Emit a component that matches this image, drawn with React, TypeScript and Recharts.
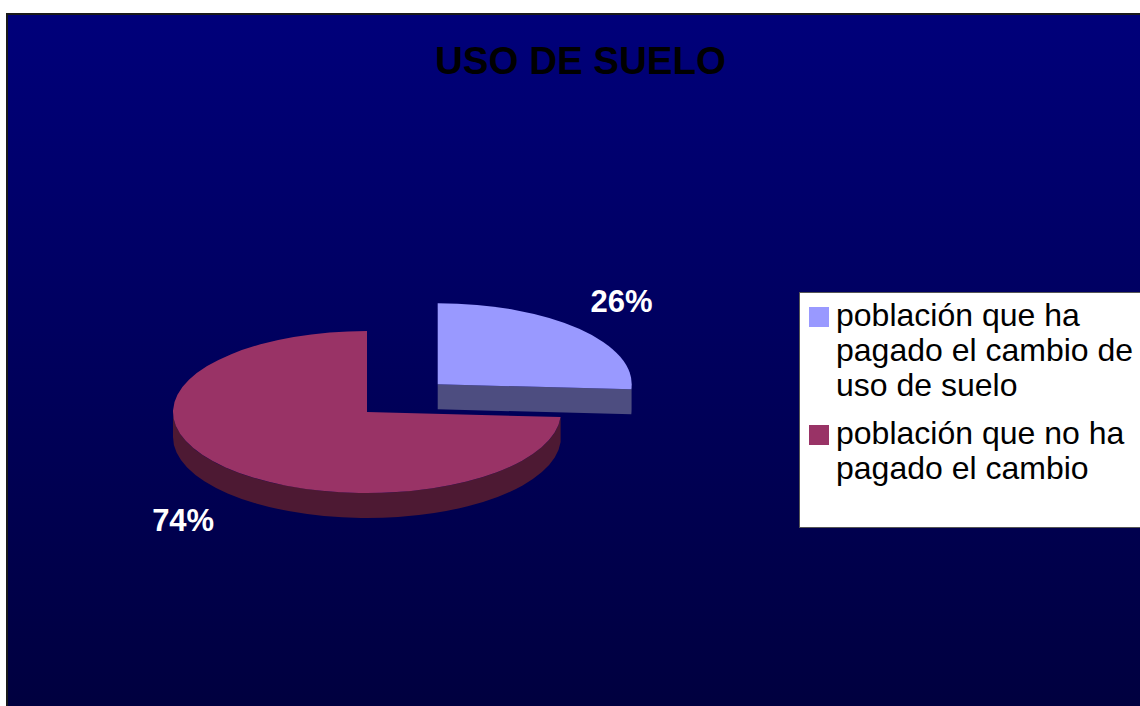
import React from 'react';
import { PieChart, Pie, Cell, Legend } from 'recharts';

const title = 'USO DE SUELO';
const categories = [
  'población que ha pagado el cambio de uso de suelo',
  'población que no ha pagado el cambio',
];
const values = [26, 74];
const topColors = ['#9999FF', '#993366'];
const sideColors = ['#4D4D80', '#4D1933'];
const exploded = [true, false];

const data = categories.map((name, i) => ({ name, value: values[i] }));

const W = 1140;
const H = 706;
const TILT = 0.4175;
const DEPTH = 25;
const EXPLODE = 0.5;
const FONT = '"Liberation Sans", Arial, Helvetica, sans-serif';

const rad = (d: number) => (d * Math.PI) / 180;

function SliceLabel(props: any) {
  const { cx, cy, outerRadius, startAngle, endAngle, midAngle, percent, index } = props;
  const r = outerRadius;
  const ry = r * TILT;
  const hi = Math.max(startAngle, endAngle);
  const lo = Math.min(startAngle, endAngle);
  let ox = cx;
  let oy = cy;
  if (exploded[index]) {
    ox += EXPLODE * r * Math.cos(rad(midAngle));
    oy -= EXPLODE * ry * Math.sin(rad(midAngle));
  }
  const P = (a: number, d = 0) => [ox + r * Math.cos(rad(a)), oy - ry * Math.sin(rad(a)) + d];
  const f = (p: number[]) => `${p[0].toFixed(2)},${p[1].toFixed(2)}`;
  const large = hi - lo > 180 ? 1 : 0;
  const top = `M${f([ox, oy])} L${f(P(hi))} A${r},${ry} 0 ${large} 1 ${f(P(lo))} Z`;
  const walls: string[] = [];
  for (let k = -2; k <= 2; k++) {
    const a = Math.max(lo, -180 + 360 * k);
    const b = Math.min(hi, 360 * k);
    if (b - a > 0.01) {
      walls.push(
        `M${f(P(b))} A${r},${ry} 0 0 1 ${f(P(a))} L${f(P(a, DEPTH))} A${r},${ry} 0 0 0 ${f(P(b, DEPTH))} Z`
      );
    }
  }
  const faces: number[] = [];
  if (hi - lo < 359.99) {
    if (Math.sin(rad(hi + 90)) < -1e-6) faces.push(hi);
    if (Math.sin(rad(lo - 90)) < -1e-6) faces.push(lo);
  }
  const face = (a: number) =>
    `M${f([ox, oy])} L${f(P(a))} L${f(P(a, DEPTH))} L${f([ox, oy + DEPTH])} Z`;
  const s = Math.sin(rad(midAngle));
  const lx = ox + 1.3 * r * Math.cos(rad(midAngle));
  const ly = oy - 1.5 * ry * s + (s < 0 ? DEPTH : 0);
  return (
    <g>
      {walls.map((d, i) => (
        <path key={'w' + i} d={d} fill={sideColors[index]} stroke="none" />
      ))}
      {faces.map((a, i) => (
        <path key={'f' + i} d={face(a)} fill={sideColors[index]} stroke="none" />
      ))}
      <path d={top} fill={topColors[index]} stroke="none" />
      <text
        x={lx}
        y={ly}
        dy="0.35em"
        textAnchor="middle"
        fill="#FFFFFF"
        fontFamily={FONT}
        fontWeight="bold"
        fontSize={31}
      >
        {`${Math.round(percent * 100)}%`}
      </text>
    </g>
  );
}

function LegendBox(props: any) {
  const payload = props.payload || [];
  return (
    <div
      style={{
        width: 350,
        height: 236,
        background: '#FFFFFF',
        border: '1px solid #555555',
        boxSizing: 'border-box',
        paddingTop: 5,
        fontFamily: FONT,
        fontSize: 32,
        lineHeight: '35px',
        color: '#000000',
      }}
    >
      {payload.map((entry: any, i: number) => (
        <div key={i} style={{ position: 'relative', paddingLeft: 36, marginBottom: 13, width: 306 }}>
          <span
            style={{
              position: 'absolute',
              left: 9,
              top: 9,
              width: 20,
              height: 20,
              background: topColors[i],
            }}
          />
          {entry.value}
        </div>
      ))}
    </div>
  );
}

export default function App() {
  return (
    <div style={{ position: 'fixed', left: 0, top: 0, width: W, height: H, overflow: 'hidden', background: '#FFFFFF' }}>
      <div
        style={{
          position: 'absolute',
          left: 6,
          top: 13,
          width: W,
          height: H,
          boxSizing: 'border-box',
          border: '2px solid #1A1A1A',
          background: 'linear-gradient(to bottom, #00007A 0%, #00003E 100%)',
        }}
      />
      <div style={{ position: 'absolute', left: 0, top: 0 }}>
        <PieChart width={W} height={H} margin={{ top: 0, right: 0, bottom: 0, left: 0 }}>
          <text
            x={580.5}
            y={74}
            textAnchor="middle"
            fontFamily={FONT}
            fontWeight="bold"
            fontSize={38.5}
            fill="#000000"
          >
            {title}
          </text>
          <Pie
            data={data}
            dataKey="value"
            nameKey="name"
            cx={367}
            cy={412}
            outerRadius={194}
            startAngle={90}
            endAngle={-270}
            isAnimationActive={false}
            label={SliceLabel}
            labelLine={false}
            stroke="none"
          >
            {data.map((d, i) => (
              <Cell key={i} fill="transparent" stroke="none" />
            ))}
          </Pie>
          <Legend
            layout="vertical"
            align="center"
            verticalAlign="middle"
            content={LegendBox}
            wrapperStyle={{ left: 799, top: 292, width: 350 }}
          />
        </PieChart>
      </div>
    </div>
  );
}
